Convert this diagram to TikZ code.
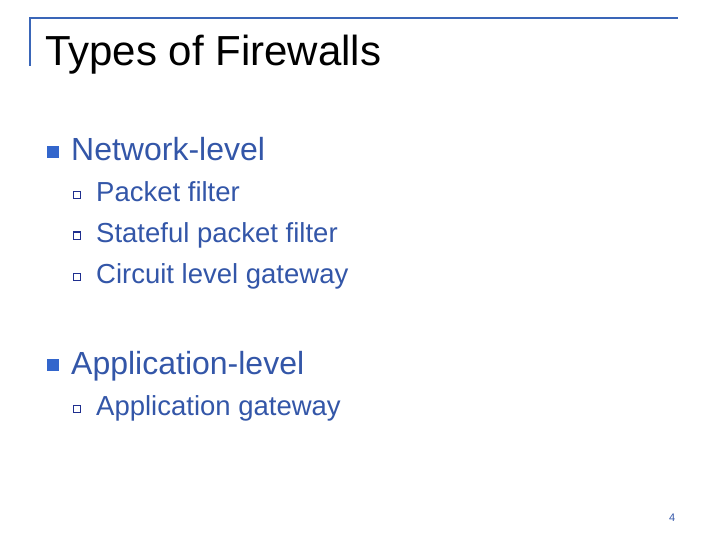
\documentclass[tikz,border=0pt]{standalone}
\usepackage{fontspec}
\setmainfont{Liberation Sans}
\begin{document}
\begin{tikzpicture}[x=1pt,y=-1pt,
  txt/.style={inner sep=0pt,anchor=base west,text=tblue},
  lvl1/.style={txt,font=\fontsize{32}{36}\selectfont},
  lvl2/.style={txt,font=\fontsize{27.5}{30}\selectfont},
  b1/.style={fill=bblue,draw=none},
  b2/.style={draw=bnavy,line width=1pt,fill=white}]
\definecolor{tblue}{HTML}{3356A8}
\definecolor{bblue}{HTML}{3366CC}
\definecolor{bnavy}{HTML}{1F2F8F}
\definecolor{rule}{HTML}{3A66B8}
\useasboundingbox (0,0) rectangle (720,540);
\draw[rule,line width=2.5pt] (30,66) -- (30,18) -- (678,18);
\node[inner sep=0pt,anchor=base west,font=\fontsize{42}{46}\selectfont] (title) at (45,66) {Types of Firewalls};
\fill[b1] (47,146) rectangle (59,158);
\node[lvl1] (n1) at (71,161) {Network-level};
\foreach \y/\t/\n in {202/Packet filter/p1,242/Stateful packet filter/p2,283/Circuit level gateway/p3}{
  \draw[b2] (73,\y-10) rectangle (80,\y-3);
  \node[lvl2] (\n) at (96,\y) {\t};
}
\fill[b1] (47,359) rectangle (59,371);
\node[lvl1] (n2) at (71,374) {Application-level};
\draw[b2] (73,405) rectangle (80,412);
\node[lvl2] (a1) at (96,415) {Application gateway};
\node[txt,font=\fontsize{11}{13}\selectfont] (pg) at (669,521) {4};
\end{tikzpicture}
\end{document}
